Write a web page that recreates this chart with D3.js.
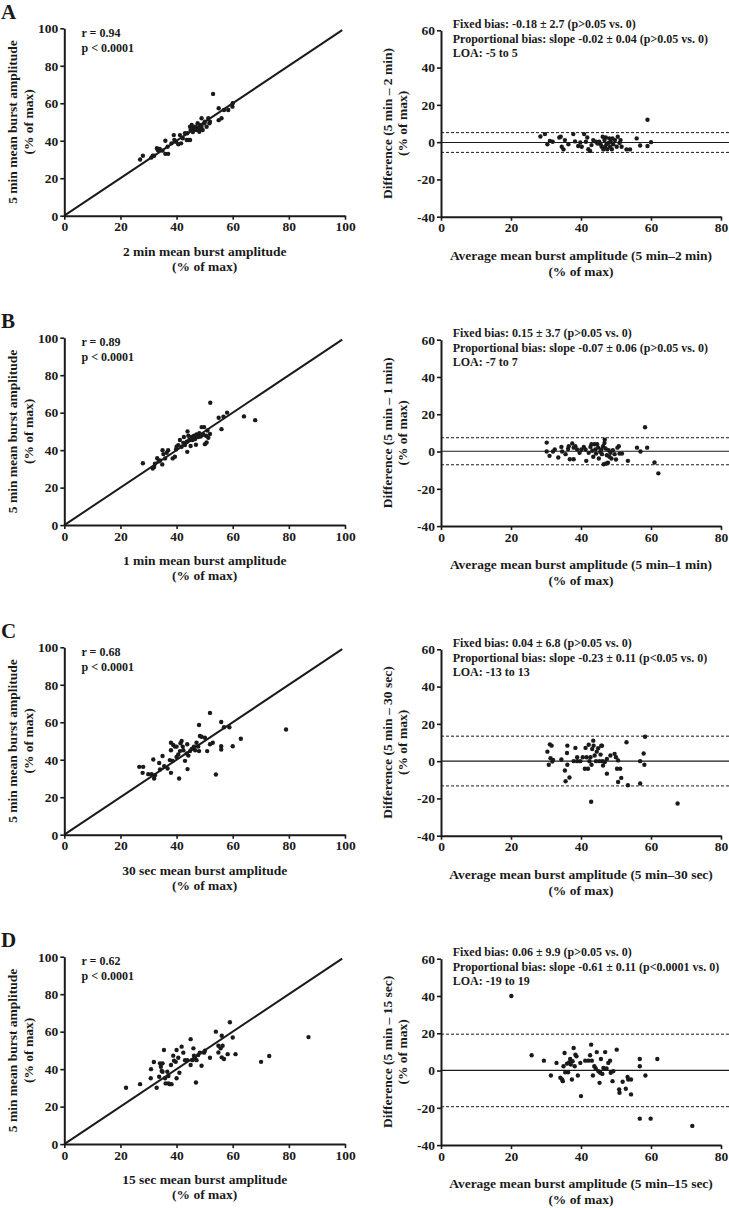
<!DOCTYPE html>
<html><head><meta charset="utf-8">
<script src="https://cdn.jsdelivr.net/npm/d3@7"></script>
<style>
body{margin:0;background:#fff;}
svg text{font-family:"Liberation Serif","Times New Roman",serif;font-weight:bold;fill:#1a1a1a;}
</style></head>
<body><svg id="c" width="729" height="1208"></svg>
<script>
// ---------- DATA ----------
const panelLetters = ["A","B","C","D"];
const leftXTitles = ["2 min mean burst amplitude","1 min mean burst amplitude","30 sec mean burst amplitude","15 sec mean burst amplitude"];
const rightYTitles = ["Difference (5 min \u2013 2 min)","Difference (5 min \u2013 1 min)","Difference (5 min \u2013 30 sec)","Difference (5 min \u2013 15 sec)"];
const rightXTitles = ["Average mean burst amplitude (5 min\u20132 min)","Average mean burst amplitude (5 min\u20131 min)","Average mean burst amplitude (5 min\u201330 sec)","Average mean burst amplitude (5 min\u201315 sec)"];
const rValues = ["r = 0.94","r = 0.89","r = 0.68","r = 0.62"];
const pValues = ["p < 0.0001","p < 0.0001","p < 0.0001","p < 0.0001"];
const fixedBiasText = ["Fixed bias: -0.18 \u00b1 2.7 (p>0.05 vs. 0)","Fixed bias: 0.15 \u00b1 3.7 (p>0.05 vs. 0)","Fixed bias: 0.04 \u00b1 6.8 (p>0.05 vs. 0)","Fixed bias: 0.06 \u00b1 9.9 (p>0.05 vs. 0)"];
const propBiasText = ["Proportional bias: slope -0.02 \u00b1 0.04 (p>0.05 vs. 0)","Proportional bias: slope -0.07 \u00b1 0.06 (p>0.05 vs. 0)","Proportional bias: slope -0.23 \u00b1 0.11 (p<0.05 vs. 0)","Proportional bias: slope -0.61 \u00b1 0.11 (p<0.0001 vs. 0)"];
const loaText = ["LOA: -5 to 5","LOA: -7 to 7","LOA: -13 to 13","LOA: -19 to 19"];
const biasLine = [-0.18, 0.15, 0.04, 0.06];
const loaUpper = [5.1, 7.4, 13.4, 19.5];
const loaLower = [-5.5, -7.1, -13.3, -19.4];
const identityLine = [[0,0],[99,99]];
const leftTicks = [0,20,40,60,80,100];
const rightXTicks = [0,20,40,60,80];
const rightYTicks = [-40,-20,0,20,40,60];

const scatterA = [[27,30],[28,32],[31,31],[31.5,32],[32,32],[33,36],[33.3,35],[34,35.6],[35,34.7],[36,40],[36,33],[37,33],[36.8,36.8],[38.2,38.6],[39,43],[39.2,40.4],[39.8,39.5],[40.6,38.1],[41.2,43],[41.6,38.6],[42.2,41.3],[43,44],[43.6,40.4],[44.2,40.4],[44.8,40.4],[43.8,44],[44.8,47.5],[45,45.7],[45.4,48.4],[46,46.6],[46.6,47.5],[47.1,45.7],[47.5,49.3],[48.1,44.8],[48.3,48.4],[48.9,52],[48.9,47.5],[49.3,45.7],[49.8,49.3],[50.1,50.2],[50.7,47.5],[51.3,52],[51.7,49.3],[51.9,50.2],[53,65],[55,57.3],[55,51],[56,52],[56.9,56.4],[58.4,56.4],[59.9,58.2],[60,60],[46.3,46],[47.8,46.8],[45.8,44.6],[48.6,46.2]];
const blandA = [[28.4,3.0],[29.7,4.3],[30.4,-1.1],[31.1,0.7],[31.9,0.2],[33.8,2.5],[34.2,2.9],[34.5,-2.5],[35.0,-3.9],[35.4,1.1],[36.4,-1.1],[37.8,4.3],[38.3,0.4],[39.2,-2.1],[39.8,-0.2],[40.2,-2.5],[40.9,4.3],[41.4,0.2],[41.8,2.5],[42.1,-3.8],[42.6,-4.7],[43.0,-1.6],[43.5,1.1],[44.3,0.2],[44.7,-0.7],[45.2,0.2],[45.6,-1.1],[45.9,-2.5],[46.2,2.9],[46.4,-3.9],[46.7,1.1],[46.9,-2.5],[47.1,2.5],[47.3,-1.1],[47.5,-3.8],[47.8,-0.4],[48.1,2.0],[48.3,-2.5],[48.5,0.2],[48.8,-3.8],[49.0,2.0],[49.2,-1.1],[49.7,1.1],[50.2,-2.5],[50.5,2.9],[51.0,-0.4],[51.3,1.1],[51.6,-2.5],[53.0,-3.9],[54.0,-3.9],[55.9,2.0],[56.9,-1.8],[59.0,12.0],[59.0,-2.1],[60.0,0]];

const scatterB = [[28,33],[31.5,30.2],[32,31],[32.3,32.7],[33.1,35.7],[34.1,34.5],[34.9,32.4],[35,40],[35.3,37.9],[35.9,35.6],[36.5,38.6],[37,40],[38.6,35.6],[39.4,36.5],[39.8,40.4],[40,41.8],[40.6,42.7],[41.2,45.4],[41.8,41.8],[42.4,43.9],[42.6,47],[43,42.7],[43.6,44.5],[43.8,39.1],[43.9,50],[44.2,47.7],[44.5,45.4],[45,42.2],[45.4,47],[45.7,45.4],[46.2,47.7],[46.6,45.9],[46.9,42.9],[47.1,48.4],[47.7,47],[48.1,49.1],[48.6,47.3],[48.9,52.3],[49.5,48.2],[49.8,52.3],[50.1,43.2],[50.5,47.7],[50.7,44.1],[51,50.5],[51.3,46.6],[51.9,48.6],[52,65.3],[55,57.3],[56,51.2],[56.7,57.8],[58,60],[64,58],[68,56],[33.6,34]];
const blandB = [[30.2,4.8],[30.2,0],[31,-2.3],[32,0],[32.5,1.1],[33.5,-3.2],[34.4,2.5],[34.6,0],[35.6,-1.4],[36.3,1.4],[36.5,2.8],[36.8,-4.1],[37.5,4.3],[37.9,-4.1],[37.9,2.1],[38.4,2.8],[38.9,1.1],[39.6,-0.7],[40.1,1.1],[40.8,2.5],[41.3,1.1],[41.5,-5],[42.2,-0.7],[42.7,2.5],[43,3.9],[43.2,0.4],[43.5,-2.8],[43.9,3.9],[44.1,1.1],[44.3,-1.1],[44.6,3.9],[44.9,2.1],[45.1,-3.7],[45.5,-0.2],[45.8,1.1],[46,-1.4],[46.3,2.8],[46.5,-6.8],[46.7,4.6],[46.8,6.4],[47,1.6],[47.2,-6.4],[47.4,-2],[47.7,-6],[47.9,0.7],[48.1,-2.8],[48.4,-0.7],[48.7,-3.7],[49.1,0.7],[49.6,-1.4],[50,-4.3],[50.4,2.1],[50.8,2.8],[51,-1.1],[51.7,-1.1],[53.4,-5],[56,2.1],[57,0],[58.3,13],[58.9,2.1],[61,-5.9],[62.1,-11.7]];

const scatterC = [[26.7,36.2],[28.1,36.2],[27.9,33],[29.9,32.3],[31.1,32.3],[31.7,40.1],[32,30],[32.3,31.7],[33.8,38.3],[34.1,34.8],[35,42],[35.6,36.5],[36.8,35.3],[37.6,39.8],[38,49.1],[38,45.1],[38,33],[38.6,39.4],[38.8,47.9],[39.4,47],[40,47],[40,41.5],[40.6,42.8],[40.9,30],[41.2,44.6],[41.4,48.8],[41.8,50],[42.2,47],[42.4,45.1],[43,39.4],[43.6,43.3],[43.8,48.3],[43.9,35],[44.2,42.2],[44.8,44.6],[45.4,45.8],[46.2,47],[46.6,45.1],[47.1,49.1],[47.7,47],[48,44.6],[48,58.5],[48.3,52.7],[48.9,52.3],[50.1,51.7],[50.9,44.6],[51.9,65],[51.9,48.3],[52.9,49.1],[54,32.1],[55.9,60.1],[55.9,47.2],[55.9,45.5],[56.9,57.3],[58.8,57.3],[60,47.2],[62.9,51.2],[79,56.1]];
const blandC = [[30.4,5.1],[30.8,-1.9],[31.1,9],[31.3,1.6],[31.6,8.3],[31.8,-0.2],[32,0.7],[34.4,0.9],[35.4,-5],[35.6,-10.8],[36,4.4],[36.1,8.3],[36.1,-1.9],[36.7,-8.8],[37.9,0],[38.4,7.1],[38.9,2.1],[38.9,0],[39.8,0],[40.5,2.1],[41.1,-4.1],[41.3,7.1],[41.6,2.1],[42,-4.1],[42.2,8.8],[42.4,0],[42.7,2.1],[42.9,-21.8],[43,-1.9],[43.2,6.5],[43.5,11],[43.6,8.3],[43.9,3],[44.3,0],[44.5,5.1],[44.9,6.9],[45.3,0],[45.6,3.5],[45.8,8.3],[46,8.3],[46.2,0],[46.3,-2.3],[46.8,-0.5],[47.4,-6.7],[47.4,1.2],[48.4,3],[49.6,3.9],[50,2.1],[50.3,-4.1],[50.6,0.4],[50.6,-11.2],[51.2,-4.1],[51.5,-9],[53,10.1],[53.4,-12.9],[56.9,0],[56.9,-12],[57.9,4.1],[58.1,-1.9],[58.3,13.1],[67.6,-22.7]];

const scatterD = [[22,30.1],[27,32],[30.8,35.1],[30.9,40],[31.9,43.8],[32.9,30.1],[33.8,35.9],[34.1,43.1],[34.4,41.3],[34.7,39],[35,43.1],[35,38.6],[35.5,50.2],[35.9,35.1],[36.1,32.4],[36.7,38.6],[37.1,32.4],[37.1,36.3],[37.6,32],[38,42.2],[38.2,32],[38.8,47.2],[39.1,44.5],[39.7,43.9],[40,35.1],[40,50.2],[40.6,46.1],[41,38.1],[41.8,52],[42.4,48.8],[43,44.8],[43.8,44.8],[45,56],[45,42.2],[45.6,44.8],[46,51.1],[46.2,47.2],[46.6,45.7],[46.9,32.9],[47.1,44.8],[47.7,47.5],[48.3,48.8],[48.9,41.8],[49.8,48.8],[50.1,49.8],[51.9,46.1],[54,60],[54.9,52.5],[54.9,48.9],[55.7,51.1],[56.1,57.8],[56.1,46.3],[56.4,52.5],[56.9,45.4],[58.2,48],[59,65],[60,56.9],[61,48],[70.1,43.9],[73,47],[87,57.1]];
const blandD = [[20.1,40],[25.9,8.2],[29.4,5.3],[31.4,-2.7],[33,4.1],[34.1,-3.9],[34.6,-4.8],[34.8,-5.7],[35,2.3],[35.3,9.4],[35.5,-0.9],[36,3.7],[36.3,-0.9],[36.6,4.4],[36.9,6.2],[37.1,3.2],[37.4,-4.8],[37.6,5],[37.9,12.1],[38.2,2.3],[38.4,8.5],[38.7,7.6],[39.1,-2.7],[39.8,4.1],[40,-13.7],[41.2,5.3],[42.1,5.3],[42.6,8.2],[42.9,13.9],[43.1,5.3],[43.4,-2.7],[43.8,2.3],[44.2,1.1],[44.5,9.9],[45,-0.4],[45.3,-6.6],[45.5,-1.2],[45.7,6.2],[46.1,-1.8],[46.4,1.4],[46.9,9.9],[47.3,1.1],[47.8,4.1],[48.3,5.3],[48.5,-1.2],[49,-5.7],[49.2,-0.4],[50.2,11.2],[50.9,-10.1],[51,-11.9],[51.9,-6],[52.8,-9.8],[53.3,-3.4],[53.5,-4.8],[54.3,-4.8],[54.3,-12.8],[56.8,6.2],[56.8,2.3],[56.8,-25.8],[58.4,-2.7],[59.9,-25.8],[61.8,6.2],[71.8,-29.7]];

const scatterData = [scatterA, scatterB, scatterC, scatterD];
const blandData = [blandA, blandB, blandC, blandD];

// ---------- LAYOUT ----------
const svg = d3.select("#c");
const panelOffsets = [0, 309.4, 619, 928.4];
const xL = d3.scaleLinear().domain([0,100]).range([64.3,345]);
const yL = d3.scaleLinear().domain([0,100]).range([215.7,28.3]);
const xR = d3.scaleLinear().domain([0,80]).range([441,721]);
const yR = d3.scaleLinear().domain([-40,60]).range([216.7,30.3]);
const ink = "#1a1a1a";
const fmt = d => String(d);

function styleAxis(g){
  g.select(".domain").attr("stroke", ink).attr("stroke-width", 2);
  g.selectAll(".tick line").attr("stroke", ink).attr("stroke-width", 1.6);
  g.selectAll(".tick text").attr("font-size", 13.5).attr("fill", ink)
    .style("font-family",'"Liberation Serif","Times New Roman",serif').style("font-weight","bold");
}

panelLetters.forEach((letter, i) => {
  const g = svg.append("g").attr("transform", `translate(0,${panelOffsets[i]})`);
  g.append("text").attr("x", 1).attr("y", 19).attr("font-size", 21).text(letter);

  // ---- left scatter ----
  const gl = g.append("g");
  gl.append("g").attr("transform", `translate(0,${yL(0)})`)
    .call(d3.axisBottom(xL).tickValues(leftTicks).tickFormat(fmt).tickSize(4).tickPadding(2).tickSizeOuter(0))
    .call(styleAxis);
  gl.append("g").attr("transform", `translate(${xL(0)},0)`)
    .call(d3.axisLeft(yL).tickValues(leftTicks).tickFormat(fmt).tickSize(4).tickPadding(2).tickSizeOuter(0))
    .call(styleAxis);
  gl.append("path").datum(identityLine)
    .attr("d", d3.line().x(d => xL(d[0])).y(d => yL(d[1])))
    .attr("stroke", ink).attr("stroke-width", 2).attr("fill", "none");
  gl.selectAll("circle.s").data(scatterData[i]).join("circle").attr("class","s")
    .attr("cx", d => xL(d[0])).attr("cy", d => yL(d[1])).attr("r", 2.2).attr("fill", ink);
  gl.append("text").attr("x", 81.5).attr("y", 36.5).attr("font-size", 12).text(rValues[i]);
  gl.append("text").attr("x", 81.5).attr("y", 51.5).attr("font-size", 12).text(pValues[i]);
  const cxL = (xL(0)+xL(100))/2;
  gl.append("text").attr("x", cxL).attr("y", 256).attr("text-anchor","middle").attr("font-size", 13.5).text(leftXTitles[i]);
  gl.append("text").attr("x", cxL).attr("y", 271).attr("text-anchor","middle").attr("font-size", 13.5).text("(% of max)");
  const cyL = (yL(0)+yL(100))/2;
  gl.append("text").attr("transform", `translate(17,${cyL}) rotate(-90)`).attr("text-anchor","middle").attr("font-size", 13.5).text("5 min mean burst amplitude");
  gl.append("text").attr("transform", `translate(32.5,${cyL}) rotate(-90)`).attr("text-anchor","middle").attr("font-size", 13.5).text("(% of max)");

  // ---- right Bland-Altman ----
  const gr = g.append("g");
  const xEnd = 729;
  gr.append("line").attr("x1", xR(0)).attr("x2", xEnd).attr("y1", yR(biasLine[i])).attr("y2", yR(biasLine[i]))
    .attr("stroke", ink).attr("stroke-width", 1.2);
  [loaUpper[i], loaLower[i]].forEach(v => {
    gr.append("line").attr("x1", xR(0)).attr("x2", xEnd).attr("y1", yR(v)).attr("y2", yR(v))
      .attr("stroke", ink).attr("stroke-width", 1).attr("stroke-dasharray", "3,2");
  });
  gr.append("g").attr("transform", `translate(0,${yR(-40)})`)
    .call(d3.axisBottom(xR).tickValues(rightXTicks).tickFormat(fmt).tickSize(4).tickPadding(2).tickSizeOuter(0))
    .call(styleAxis);
  gr.append("g").attr("transform", `translate(${xR(0)},0)`)
    .call(d3.axisLeft(yR).tickValues(rightYTicks).tickFormat(fmt).tickSize(4).tickPadding(2).tickSizeOuter(0))
    .call(styleAxis);
  gr.selectAll("circle.b").data(blandData[i]).join("circle").attr("class","b")
    .attr("cx", d => xR(d[0])).attr("cy", d => yR(d[1])).attr("r", 2.2).attr("fill", ink);
  gr.append("text").attr("x", 452.7).attr("y", 28).attr("font-size", 12).text(fixedBiasText[i]);
  gr.append("text").attr("x", 452.7).attr("y", 42.5).attr("font-size", 12).text(propBiasText[i]);
  gr.append("text").attr("x", 452.7).attr("y", 57).attr("font-size", 12).text(loaText[i]);
  const cxR = (xR(0)+xR(80))/2;
  gr.append("text").attr("x", cxR).attr("y", 260).attr("text-anchor","middle").attr("font-size", 13.5).text(rightXTitles[i]);
  gr.append("text").attr("x", cxR).attr("y", 275.5).attr("text-anchor","middle").attr("font-size", 13.5).text("(% of max)");
  const cyR = (yR(-40)+yR(60))/2;
  gr.append("text").attr("transform", `translate(392,${cyR}) rotate(-90)`).attr("text-anchor","middle").attr("font-size", 13.5).text(rightYTitles[i]);
  gr.append("text").attr("transform", `translate(407,${cyR}) rotate(-90)`).attr("text-anchor","middle").attr("font-size", 13.5).text("(% of max)");
});
</script></body></html>
